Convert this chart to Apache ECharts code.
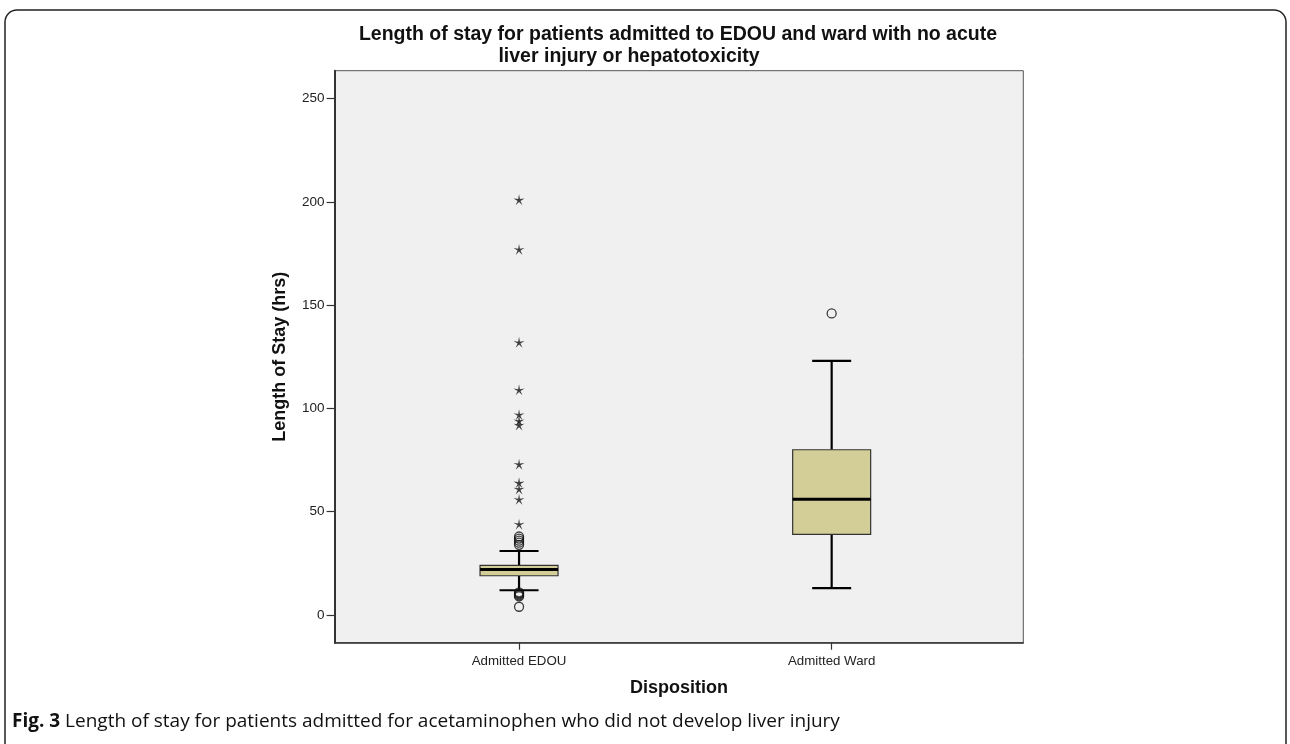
<!DOCTYPE html>
<html><head><meta charset="utf-8">
<script src="https://cdn.jsdelivr.net/npm/echarts@6/dist/echarts.min.js"></script>
<style>html,body{margin:0;padding:0;background:#fff}#c{width:1290px;height:744px}</style>
</head><body><div id="c"></div>
<script>
// ---- data ----
const categories = ['Admitted EDOU', 'Admitted Ward'];
const categoryPos = [1, 2];
// [lower whisker, Q1, median, Q3, upper whisker]
const edouBox = [12, 19, 22, 24, 31];
const wardBox = [13, 39, 56, 80, 123];
const edouCircles = [38, 37, 36, 35, 34, 11, 10.5, 10, 9.5, 9, 4];
const edouStars = [201, 177, 132, 109, 97, 94, 92, 73, 64, 61, 56, 44];
const wardCircles = [146];
const yTicks = [0, 50, 100, 150, 200, 250];
const titleLine1 = 'Length of stay for patients admitted to EDOU and ward with no acute';
const titleLine2 = 'liver injury or hepatotoxicity';
const captionBold = 'Fig. 3';
const captionText = ' Length of stay for patients admitted for acetaminophen who did not develop liver injury';

// ---- helpers ----
function starPath(n, rOut, rIn) {
  let d = '';
  for (let i = 0; i < n * 2; i++) {
    const r = i % 2 === 0 ? rOut : rIn;
    const a = -Math.PI / 2 + i * Math.PI / n;
    d += (i === 0 ? 'M' : 'L') + (50 + r * Math.cos(a)).toFixed(2) + ' ' + (50 + r * Math.sin(a)).toFixed(2) + ' ';
  }
  return 'path://' + d + 'Z';
}
const starSymbol = starPath(5, 50, 13);

const boxData = [[categoryPos[0]].concat(edouBox), [categoryPos[1]].concat(wardBox)];
const circleData = edouCircles.map(v => [categoryPos[0], v]).concat(wardCircles.map(v => [categoryPos[1], v]));
const starData = edouStars.map(v => [categoryPos[0], v]);

const chart = echarts.init(document.getElementById('c'), null, {renderer: 'canvas'});
const FONT = 'Liberation Sans, Arial, sans-serif';
const titleStyle = {fontFamily: FONT, fontSize: 19.5, fontWeight: 'bold', color: '#111', lineHeight: 22};
chart.setOption({
  animation: false,
  backgroundColor: '#fff',
  title: [
    {text: titleLine1, left: 678, top: 24, textAlign: 'center', padding: 0, textStyle: titleStyle},
    {text: titleLine2, left: 629, top: 46, textAlign: 'center', padding: 0, textStyle: titleStyle}
  ],
  grid: {
    left: 334.6, right: 266.7, top: 70.7, bottom: 101.3,
    show: true, backgroundColor: '#f0f0f0', borderColor: '#555', borderWidth: 1
  },
  xAxis: {
    type: 'value', min: 0.41, max: 2.613,
    splitLine: {show: false},
    axisLine: {show: true, onZero: false, lineStyle: {color: '#333', width: 1.5}},
    axisTick: {show: true, customValues: categoryPos, length: 7, lineStyle: {color: '#333', width: 1.2}},
    axisLabel: {customValues: categoryPos, formatter: v => categories[categoryPos.indexOf(v)] || '',
      margin: 12, fontFamily: FONT, fontSize: 13.3, color: '#222'},
    name: 'Disposition', nameLocation: 'middle', nameGap: 36,
    nameTextStyle: {fontFamily: FONT, fontSize: 18, fontWeight: 'bold', color: '#111'}
  },
  yAxis: {
    type: 'value', min: -13.4, max: 263.5,
    splitLine: {show: false},
    axisLine: {show: true, onZero: false, lineStyle: {color: '#333', width: 2}},
    axisTick: {show: true, customValues: yTicks, length: 8, lineStyle: {color: '#333', width: 1.2}},
    axisLabel: {customValues: yTicks, margin: 10, fontFamily: FONT, fontSize: 13.5, color: '#222'},
    name: 'Length of Stay (hrs)', nameLocation: 'middle', nameGap: 46, nameRotate: 90,
    nameTextStyle: {fontFamily: FONT, fontSize: 18, fontWeight: 'bold', color: '#111'}
  },
  series: [
    {
      type: 'custom',
      data: boxData,
      encode: {x: 0, y: [1, 2, 3, 4, 5]},
      renderItem: function (params, api) {
        const x = api.value(0);
        const lo = api.coord([x, api.value(1)]);
        const q1 = api.coord([x, api.value(2)]);
        const md = api.coord([x, api.value(3)]);
        const q3 = api.coord([x, api.value(4)]);
        const hi = api.coord([x, api.value(5)]);
        const cx = lo[0], bw = 78, cw = 39;
        const ls = {stroke: '#000', lineWidth: 2.2};
        return {type: 'group', children: [
          {type: 'line', shape: {x1: cx, y1: q3[1], x2: cx, y2: hi[1]}, style: ls},
          {type: 'line', shape: {x1: cx, y1: q1[1], x2: cx, y2: lo[1]}, style: ls},
          {type: 'line', shape: {x1: cx - cw / 2, y1: hi[1], x2: cx + cw / 2, y2: hi[1]}, style: ls},
          {type: 'line', shape: {x1: cx - cw / 2, y1: lo[1], x2: cx + cw / 2, y2: lo[1]}, style: ls},
          {type: 'rect', shape: {x: cx - bw / 2, y: q3[1], width: bw, height: q1[1] - q3[1]},
            style: {fill: '#d3ce97', stroke: '#333', lineWidth: 1.2}},
          {type: 'line', shape: {x1: cx - bw / 2, y1: md[1], x2: cx + bw / 2, y2: md[1]},
            style: {stroke: '#000', lineWidth: 3}}
        ]};
      }
    },
    {
      type: 'scatter', data: circleData, symbol: 'circle', symbolSize: 9,
      itemStyle: {color: 'rgba(0,0,0,0)', borderColor: '#111', borderWidth: 1.3}
    },
    {
      type: 'scatter', data: starData, symbol: starSymbol, symbolSize: 11,
      itemStyle: {color: '#111'}
    }
  ],
  graphic: [
    {type: 'rect', shape: {x: 5, y: 10, width: 1281, height: 780, r: 12},
      style: {fill: 'none', stroke: '#222', lineWidth: 1.5}, silent: true},
    {type: 'text', left: 12, top: 712,
      style: {text: '{b|' + captionBold + '}' + captionText,
        rich: {b: {fontWeight: 'bold', fontFamily: 'Open Sans', fontSize: 19, fill: '#111'}},
        fontFamily: 'Open Sans', fontSize: 19, fill: '#111'}}
  ]
});
</script></body></html>
